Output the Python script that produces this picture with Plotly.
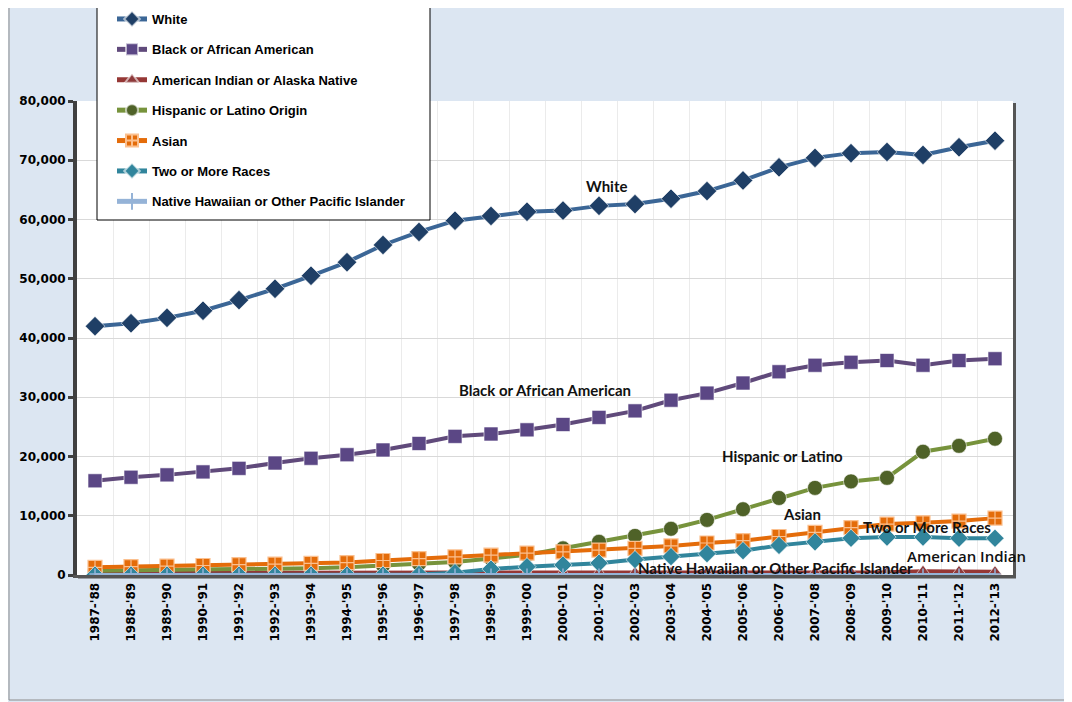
import plotly.graph_objects as go

years = ["1987-'88", "1988-'89", "1989-'90", "1990-'91", "1991-'92", "1992-'93", "1993-'94",
         "1994-'95", "1995-'96", "1996-'97", "1997-'98", "1998-'99", "1999-'00", "2000-'01",
         "2001-'02", "2002-'03", "2003-'04", "2004-'05", "2005-'06", "2006-'07", "2007-'08",
         "2008-'09", "2009-'10", "2010-'11", "2011-'12", "2012-'13"]

white = [42000, 42500, 43400, 44600, 46400, 48300, 50500, 52800, 55700, 57900, 59800, 60600,
         61300, 61500, 62300, 62600, 63500, 64800, 66600, 68800, 70400, 71200, 71400, 70900,
         72200, 73300]
black = [15900, 16500, 16900, 17400, 18000, 18900, 19700, 20300, 21100, 22200, 23400, 23800,
         24500, 25400, 26600, 27700, 29500, 30700, 32400, 34300, 35400, 35900, 36200, 35400,
         36200, 36500]
am_indian = [350, 350, 350, 360, 370, 380, 390, 400, 400, 410, 410, 420, 420, 420, 430, 430,
             430, 440, 440, 440, 450, 450, 450, 650, 600, 550]
hispanic = [700, 750, 800, 850, 950, 1050, 1150, 1300, 1600, 1900, 2200, 2800, 3400, 4500,
            5600, 6600, 7800, 9300, 11100, 13000, 14700, 15800, 16400, 20800, 21800, 23000]
asian = [1300, 1400, 1500, 1600, 1750, 1850, 1950, 2100, 2450, 2750, 3050, 3350, 3700, 3900,
         4200, 4500, 4900, 5400, 5800, 6500, 7200, 8000, 8600, 8800, 9100, 9600]
two_more = [0, 0, 0, 0, 0, 0, 0, 0, 0, 100, 400, 1000, 1400, 1700, 2000, 2600, 3100, 3600,
            4100, 5000, 5600, 6200, 6400, 6400, 6200, 6200]
nh_pi = [150, 150, 150, 150, 150, 150, 150, 150, 150, 150, 150, 150, 150, 150, 150, 150,
         150, 150, 150, 150, 150, 150, 150, 150, 150, 150]

series = [
    ("White", white, "#3B6696", "#1F3F66", "diamond", 15, 4),
    ("Black or African American", black, "#604A7B", "#5B4785", "square", 14, 4),
    ("American Indian or Alaska Native", am_indian, "#953735", "#8E3A3B", "triangle-up", 12, 4),
    ("Hispanic or Latino Origin", hispanic, "#77933C", "#4F6228", "circle", 15, 4),
    ("Asian", asian, "#E46C0A", "#E46C0A", "square-cross", 14, 4),
    ("Two or More Races", two_more, "#31859C", "#31859C", "diamond", 14, 4),
    ("Native Hawaiian or Other Pacific Islander", nh_pi, "#95B3D7", "#95B3D7", "cross-thin", 8, 2),
]

fig = go.Figure()
for i, (name, vals, lc, mc, sym, size, lw) in enumerate(series):
    mline = dict(width=1, color="rgba(255,255,255,0.6)")
    if sym == "square-cross":
        mline = dict(width=1.2, color="#FBC08F")
    if sym == "cross-thin":
        mline = dict(width=1.5, color=mc)
    fig.add_trace(go.Scatter(
        x=years, y=vals, name=name, mode="lines+markers",
        legendgroup=f"g{i}",
        line=dict(color=lc, width=lw),
        marker=dict(symbol=sym, size=size, color=mc, line=mline),
    ))

# page body has an 8px margin: work in page pixels, shift into figure pixels
OFF = 8
L, T, W, H = 77 - OFF, 101 - OFF, 936, 474
FW, FH = 1072 - OFF, 702 - OFF

def px(x):
    return (x - OFF - L) / W

def py(y):
    return (T + H - (y - OFF)) / H

shapes = [
    # outer chart border
    dict(type="rect", xref="paper", yref="paper", x0=px(9), x1=px(1068), y0=py(700), y1=py(0),
         line=dict(color="#8C8C8C", width=1), fillcolor="rgba(0,0,0,0)", layer="below"),
    # plot area shadow right and bottom
    dict(type="line", xref="paper", yref="paper", x0=px(1014.5), x1=px(1014.5), y0=py(578), y1=py(103),
         line=dict(color="#555555", width=3)),
    dict(type="line", xref="paper", yref="paper", x0=px(78), x1=px(1016), y0=py(577), y1=py(577),
         line=dict(color="#555555", width=3)),
    # legend box
    dict(type="rect", xref="paper", yref="paper", x0=px(97), x1=px(430), y0=py(220), y1=py(6),
         line=dict(color="#000000", width=1), fillcolor="#FFFFFF", layer="above"),
]

labels = [
    ("White", 14.2, 65650, "Lato", 15, "bold"),
    ("Black or African American", 12.5, 31200, "Lato", 15, "bold"),
    ("Hispanic or Latino", 19.1, 20100, "Lato", 15, "bold"),
    ("Asian", 19.65, 10300, "Lato", 15, "bold"),
    ("Two or More Races", 23.1, 8100, "Lato", 15, "bold"),
    ("American Indian", 24.2, 3200, "Open Sans", 15, 600),
    ("Native Hawaiian or Other Pacific Islander", 18.9, 1150, "Lato", 15, "bold"),
]
annotations = []
for text, xi, yv, fam, fs, wt in labels:
    annotations.append(dict(text=text, x=xi, y=yv, xref="x", yref="y", showarrow=False,
                            font=dict(family=fam, size=fs, color="#111111", weight=wt),
                            xanchor="center", yanchor="middle"))

fig.update_layout(
    width=FW, height=FH,
    margin=dict(l=L, r=FW - L - W, t=T, b=FH - T - H, autoexpand=False),
    paper_bgcolor="#DCE6F2",
    plot_bgcolor="#FFFFFF",
    showlegend=True,
    legend=dict(
        x=px(112), y=py(4), xanchor="left", yanchor="top",
        bgcolor="rgba(0,0,0,0)", borderwidth=0,
        font=dict(family="Liberation Sans, Arial", size=13, color="#000000", weight="bold"),
        traceorder="grouped", tracegroupgap=10.5, itemsizing="constant", itemwidth=30,
    ),
    shapes=shapes,
    annotations=annotations,
    xaxis=dict(
        type="category", tickangle=-90, tickson="boundaries",
        showgrid=True, gridcolor="#EBEBEB", gridwidth=1,
        ticks="", showline=True, linecolor="#555555", linewidth=3,
        tickfont=dict(family="DejaVu Sans", size=12, color="#000000", weight="bold"),
        range=[-0.5, 25.5], fixedrange=True,
    ),
    yaxis=dict(
        range=[0, 80000], tickvals=[0, 10000, 20000, 30000, 40000, 50000, 60000, 70000, 80000],
        tickformat=",d", showgrid=True, gridcolor="#D9D9D9", gridwidth=1,
        zeroline=False, showline=True, linecolor="#404040", linewidth=4,
        ticks="outside", ticklen=5, tickwidth=3, tickcolor="#404040",
        tickfont=dict(family="DejaVu Sans", size=12, color="#000000", weight="bold"),
    ),
)

fig.write_html("out.html")
